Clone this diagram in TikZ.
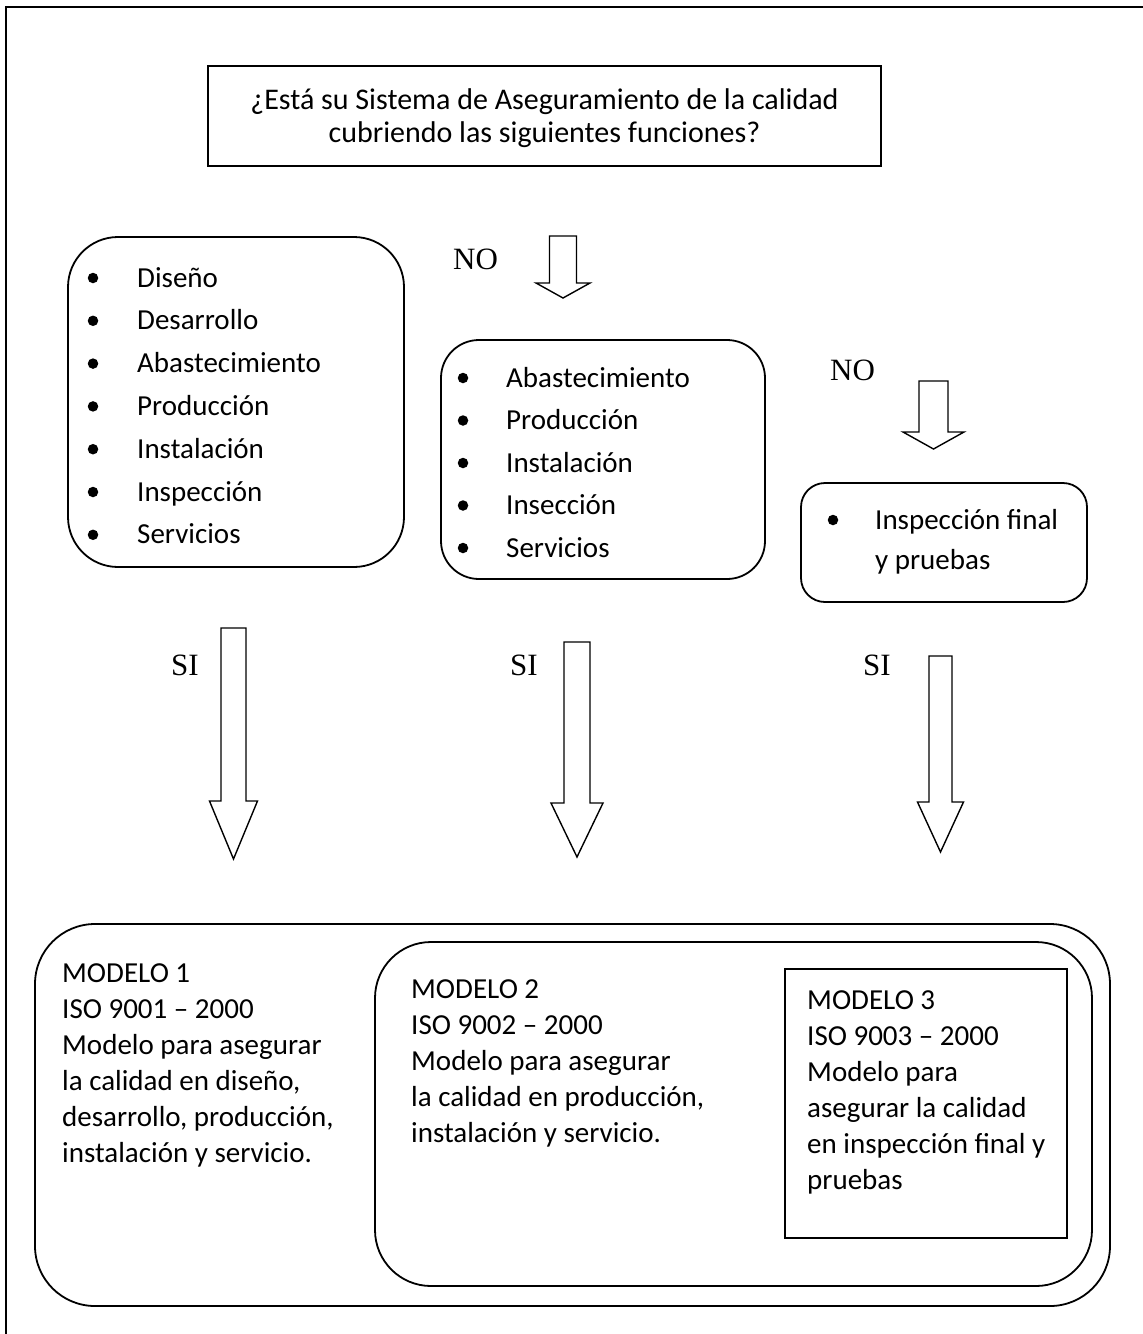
\documentclass[tikz,border=0pt]{standalone}
\usepackage{fontspec}
\setmainfont{Carlito}
\newfontfamily\tnr{Liberation Serif}
\begin{document}
\begin{tikzpicture}[x=1pt,y=-1pt,
  box/.style={draw, line width=1.8pt, inner sep=0pt},
  rbox/.style={box, rounded corners=#1},
  item/.style={anchor=base west, inner sep=0pt, font=\fontsize{29}{35}\selectfont},
  ctext/.style={anchor=base, inner sep=0pt, font=\fontsize{30}{35}\selectfont},
  lbl/.style={anchor=base west, inner sep=0pt, font=\tnr\fontsize{31}{36}\selectfont},
  bul/.style={circle, fill=black, inner sep=0pt, minimum size=10.5pt},
  blkarrow/.style={draw, line width=1.4pt, line join=miter, fill=white}]
\useasboundingbox (0,0) rectangle (1143,1334);
\newcommand\BlkArr[6]{%
  \draw[blkarrow] (#1-#2,#4) -- (#1+#2,#4) -- (#1+#2,#5) -- (#1+#3,#5) -- (#1,#6)
     -- (#1-#3,#5) -- (#1-#2,#5) -- cycle;}
% outer frame (only top and left edges visible)
\draw[line width=1.8pt] (6,1340) -- (6,7) -- (1150,7);
% question box
\node[box, minimum width=673pt, minimum height=100pt] (q) at (544.5,116) {};
\node[ctext] (q1) at (544.5,109) {¿Está su Sistema de Aseguramiento de la calidad};
\node[ctext] (q2) at (544.5,142) {cubriendo las siguientes funciones?};
% left list box
\node[rbox=50pt, minimum width=336pt, minimum height=330pt] (lbox) at (236,402) {};
\foreach \t [count=\i] in {Diseño,Desarrollo,Abastecimiento,Producción,Instalación,Inspección,Servicios}{
  \pgfmathsetmacro\yy{287+42.8*(\i-1)}
  \node[bul] (lb\i) at (93,\yy-9) {};
  \node[item] (lt\i) at (137,\yy) {\t};
}
% middle list box
\node[rbox=38pt, minimum width=324pt, minimum height=239pt] (mbox) at (603,459.5) {};
\foreach \t [count=\i] in {Abastecimiento,Producción,Instalación,Insección,Servicios}{
  \pgfmathsetmacro\yy{387+42.5*(\i-1)}
  \node[bul] (mb\i) at (463,\yy-9) {};
  \node[item] (mt\i) at (506,\yy) {\t};
}
% right list box
\node[rbox=24pt, minimum width=286pt, minimum height=119pt] (rbox) at (944,542.5) {};
\node[bul] (rb1) at (833,520) {};
\node[item] (rt1) at (875,529) {Inspección final};
\node[item] (rt2) at (875,569) {y pruebas};
% NO labels and arrows
\node[lbl] (no1) at (453,269) {NO};
\BlkArr{563}{13.5}{27}{236}{283}{298}
\node[lbl] (no2) at (830,380) {NO};
\BlkArr{933.5}{14.5}{30.5}{381}{432}{449}
% SI labels and arrows
\node[lbl] (si1) at (171,675) {SI};
\BlkArr{233.5}{12.5}{24}{628}{801}{859}
\node[lbl] (si2) at (510,675) {SI};
\BlkArr{577}{13}{26}{642}{803}{857}
\node[lbl] (si3) at (863,675) {SI};
\BlkArr{940.5}{11.5}{23}{656}{802}{852}
% model boxes
\node[rbox=60pt, minimum width=1075pt, minimum height=382pt] (m1box) at (572.5,1115) {};
\node[rbox=56pt, minimum width=717pt, minimum height=344pt] (m2box) at (733.5,1114) {};
\node[box, minimum width=282pt, minimum height=269pt] (m3box) at (926,1103.5) {};
\foreach \t [count=\i] in {MODELO 1,ISO 9001 – 2000,Modelo para asegurar,{la calidad en diseño,},{desarrollo, producción,},instalación y servicio.}{
  \node[item] (ma\i) at (62,982+36*\i-36) {\t};
}
\foreach \t [count=\i] in {MODELO 2,ISO 9002 – 2000,Modelo para asegurar,{la calidad en producción,},instalación y servicio.}{
  \node[item] (mb\i) at (411,998+36*\i-36) {\t};
}
\foreach \t [count=\i] in {MODELO 3,ISO 9003 – 2000,Modelo para,asegurar la calidad,en inspección final y,pruebas}{
  \node[item] (mc\i) at (807,1009+36*\i-36) {\t};
}
\end{tikzpicture}
\end{document}
